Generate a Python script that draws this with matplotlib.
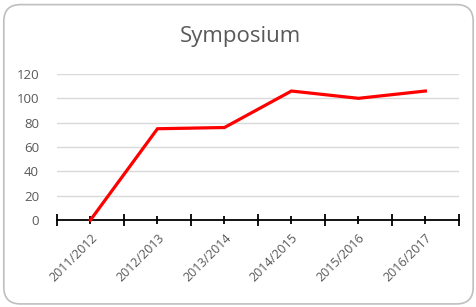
import matplotlib.pyplot as plt
from matplotlib.patches import FancyBboxPatch
import numpy as np

years = ['2011/2012', '2012/2013', '2013/2014', '2014/2015', '2015/2016', '2016/2017']
values = [0, 75, 76, 106, 100, 106]
y_ticks = [0, 20, 40, 60, 80, 100, 120]

plt.rcParams['font.family'] = ['Open Sans', 'DejaVu Sans']

fig = plt.figure(figsize=(4.77, 3.07), dpi=100)

# rounded chart border
border = FancyBboxPatch((0.008, 0.01), 0.984, 0.975, boxstyle='round,pad=0,rounding_size=0.035',
                        transform=fig.transFigure, facecolor='white', edgecolor='#bfbfbf',
                        linewidth=1.2, mutation_aspect=477 / 307, zorder=-5)
fig.patches.append(border)

ax = fig.add_axes([0.1195, 0.2834, 0.8425, 0.4756])
ax.set_facecolor('none')
ax.set_zorder(2)

x = np.arange(len(years))
ax.plot(x, values, color='#ff0000', linewidth=2.3, clip_on=False, zorder=3,
        solid_joinstyle='miter')

ax.set_xlim(-0.5, len(years) - 0.5)
ax.set_ylim(0, 120)
ax.set_yticks(y_ticks)
ax.grid(True, axis='y', color='#d9d9d9', linewidth=1)
ax.set_axisbelow(True)

for side in ['top', 'right', 'left']:
    ax.spines[side].set_visible(False)
ax.spines['bottom'].set_color('#000000')
ax.spines['bottom'].set_linewidth(1.3)
ax.spines['bottom'].set_zorder(2)

ax.set_xticks(np.arange(-0.5, len(years), 1.0))
ax.set_xticklabels([])
ax.set_xticks(x, minor=True)
ax.set_xticklabels(years, minor=True, rotation=45, ha='right', rotation_mode='anchor',
                   fontsize=9, color='#595959')
ax.tick_params(axis='x', which='major', direction='inout', length=9, width=1.3, color='black')
ax.tick_params(axis='x', which='minor', direction='inout', length=6, width=1.3, color='black',
               pad=5)
ax.tick_params(axis='y', length=0, labelsize=9.5, labelcolor='#595959', pad=13)

fig.text(0.505, 0.88, 'Symposium', ha='center', va='center', fontsize=16, color='#595959')

fig.savefig('out.png', dpi=100)
